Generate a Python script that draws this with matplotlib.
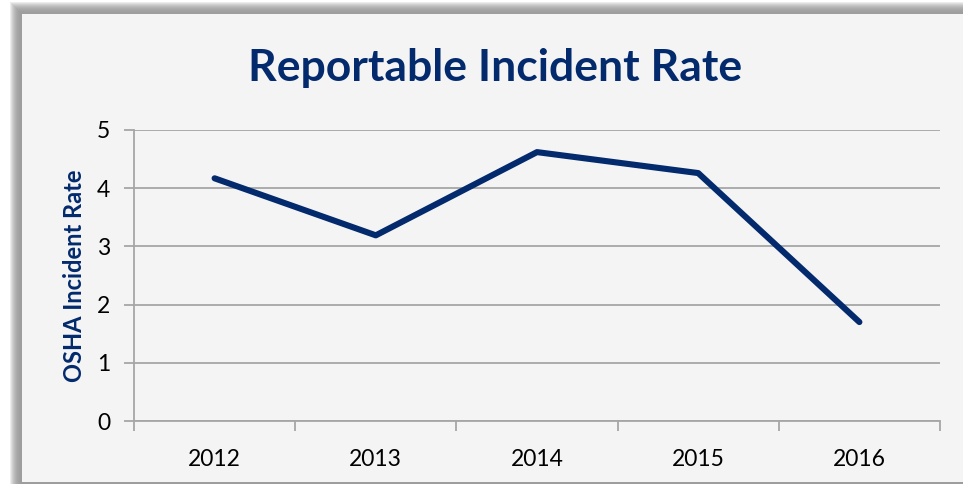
import numpy as np
import matplotlib
matplotlib.use("Agg")
import matplotlib.pyplot as plt
from matplotlib.patches import Rectangle

# Data
years = ["2012", "2013", "2014", "2015", "2016"]
rates = [4.17, 3.19, 4.62, 4.26, 1.70]
y_ticks = [0, 1, 2, 3, 4, 5]

navy = "#022a6c"
grid_gray = "#a6a6a6"
panel = "#f4f4f4"

W, H = 963, 484
fig = plt.figure(figsize=(W / 100, H / 100), dpi=100)
fig.patch.set_facecolor("white")

# Soft shadow behind the chart panel (left and top)
for i in range(12):
    a = 0.07 * (1 - i / 12)
    fig.patches.append(Rectangle(((10 + i) / W, 0), 1, (H - 2 - i) / H,
                                 transform=fig.transFigure, facecolor="black",
                                 alpha=a, edgecolor="none", zorder=-2))
fig.patches.append(Rectangle((22 / W, 2 / H), 1, (H - 16) / H,
                             transform=fig.transFigure, facecolor=panel,
                             edgecolor="none", zorder=-1))

ax = fig.add_axes([134 / W, 1 - 421 / H, (940 - 134) / W, (421 - 130) / H])
ax.patch.set_alpha(0)

x = np.arange(len(years))
ax.plot(x, rates, color=navy, lw=4.4, solid_capstyle="round",
        solid_joinstyle="round", zorder=3)

ax.set_xlim(-0.5, len(years) - 0.5)
ax.set_ylim(0, 5)
ax.set_yticks(y_ticks)
ax.set_xticks(x)
ax.set_xticklabels(years)
ax.set_xticks(np.arange(-0.5, len(years)), minor=True)
ax.yaxis.grid(True, color=grid_gray, lw=1.3)
ax.set_axisbelow(True)

for s in ["top", "right"]:
    ax.spines[s].set_visible(False)
for s in ["left", "bottom"]:
    ax.spines[s].set_color(grid_gray)
    ax.spines[s].set_linewidth(1.3)

ax.tick_params(axis="x", which="major", length=0, pad=20, labelsize=16.5)
ax.tick_params(axis="x", which="minor", length=7, width=1.3, color=grid_gray, direction="out")
ax.tick_params(axis="y", length=7, width=1.3, color=grid_gray, pad=10, labelsize=16.5)

font = ["Lato", "DejaVu Sans"]
for lab in ax.get_xticklabels() + ax.get_yticklabels():
    lab.set_fontfamily(font)

ax.set_ylabel("OSHA Incident Rate", fontsize=17, fontweight="bold", color=navy,
              family=font, labelpad=8)

fig.text(495 / W, 1 - 68 / H, "Reportable Incident Rate", ha="center", va="center",
         fontsize=32, fontweight="bold", color=navy, family=font)

fig.savefig("out.png", dpi=100, facecolor=fig.get_facecolor())
